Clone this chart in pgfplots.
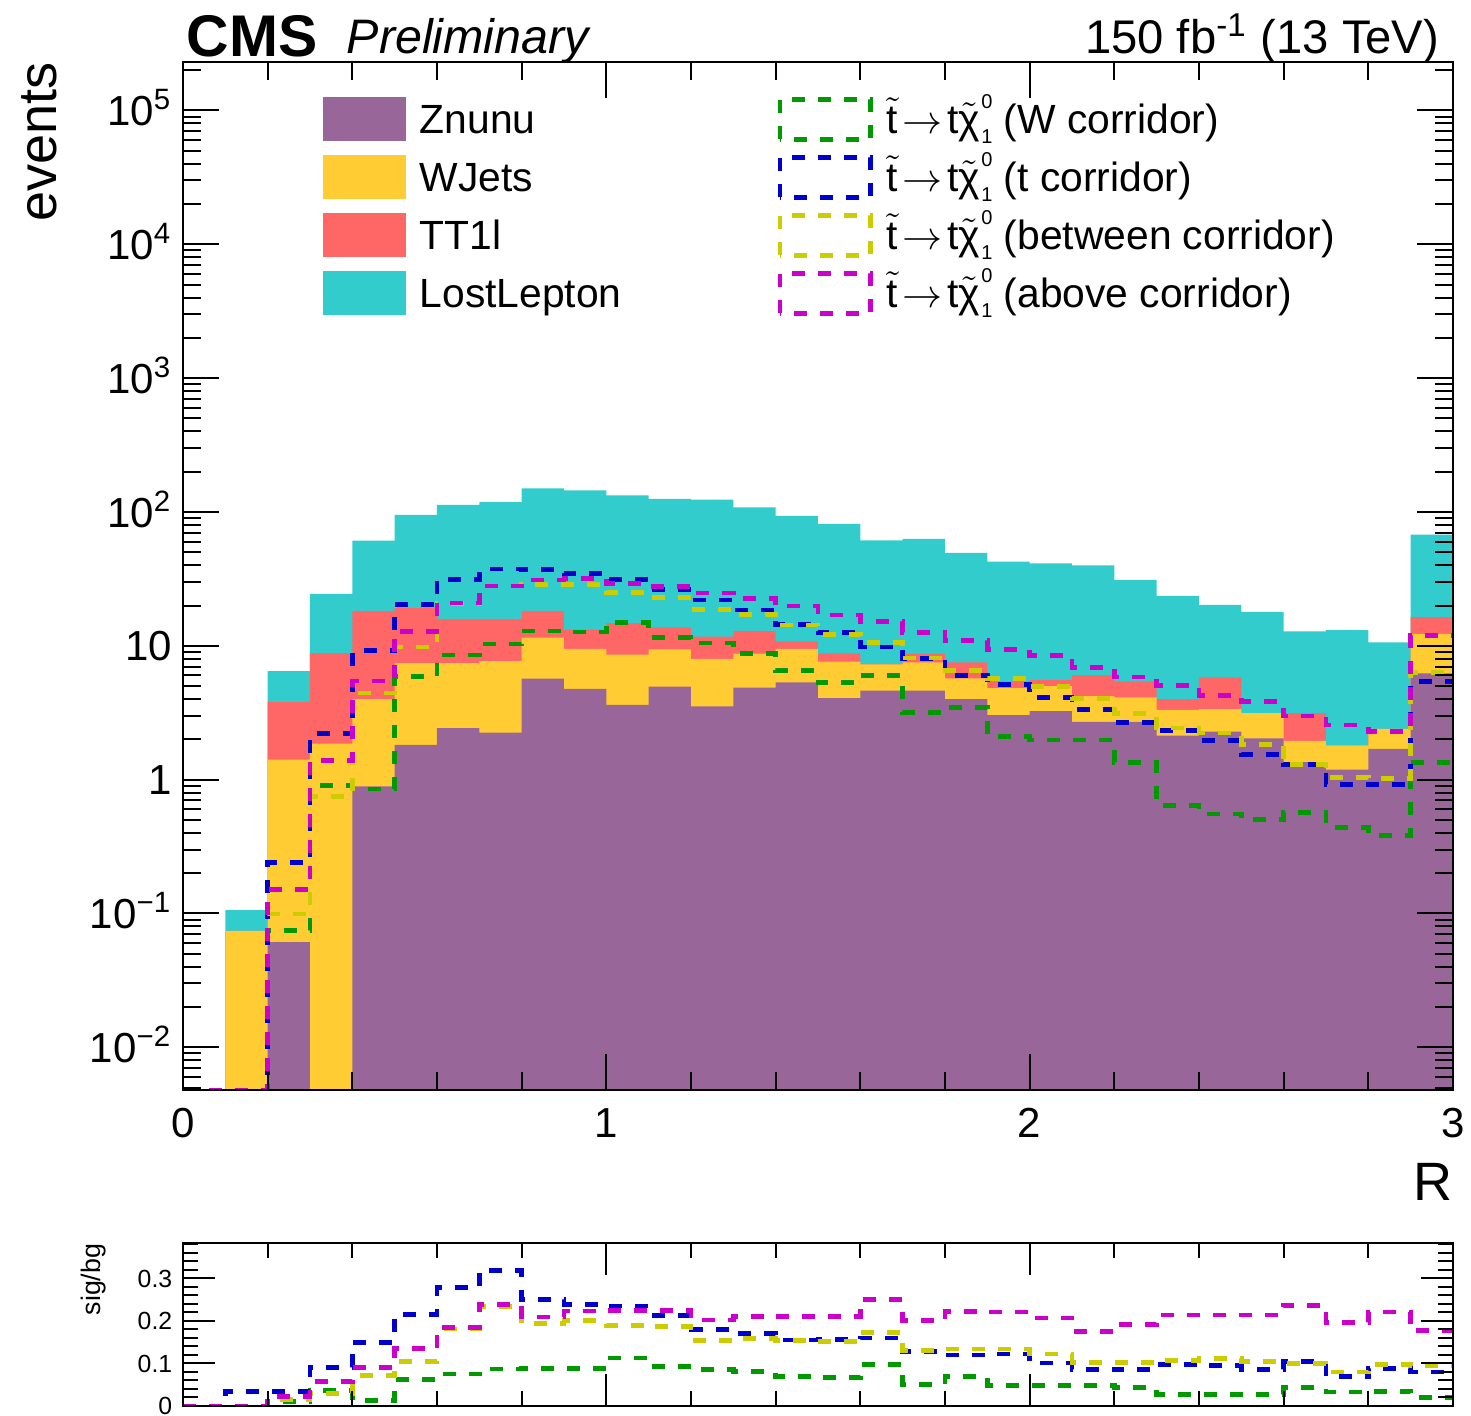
\documentclass[border=0pt]{standalone}
\usepackage{fontspec}
\setmainfont{Liberation Sans}
\usepackage{pgfplots}
\usepackage{pgfplotstable}
\pgfplotsset{compat=1.18}

\definecolor{cZn}{RGB}{153,102,153}
\definecolor{cWJ}{RGB}{255,204,51}
\definecolor{cTT}{RGB}{255,102,102}
\definecolor{cLL}{RGB}{51,204,204}
\definecolor{sW}{RGB}{0,153,0}
\definecolor{sT}{RGB}{0,0,204}
\definecolor{sB}{RGB}{204,204,0}
\definecolor{sA}{RGB}{204,0,204}

\newcommand\fs[1]{\fontsize{#1}{#1}\selectfont}

% cumulative stack tops per bin (left edge), 1e-5 = empty
\pgfplotstableread{
x zn wj tt ll
0.0 1e-5 1e-5 1e-5 1e-5
0.1 1e-5 0.074 0.074 0.106
0.2 0.061 1.41 3.80 6.47
0.3 1e-5 1.86 8.8 24.4
0.4 0.89 3.99 18.2 61
0.5 1.82 7.41 19.1 95
0.6 2.43 7.41 15.9 113
0.7 2.25 7.67 15.9 118.6
0.8 5.68 11.5 18.2 150
0.9 4.76 9.5 13.2 145
1.0 3.62 8.6 14.8 133
1.1 4.96 9.4 13.7 125
1.2 3.53 8.0 11.7 123.5
1.3 4.86 8.73 12.9 108
1.4 5.34 9.5 10.8 93.4
1.5 4.07 7.62 8.79 81.5
1.6 4.63 7.26 7.26 61.3
1.7 4.63 7.51 8.73 63
1.8 3.99 5.72 7.51 49.5
1.9 3.03 4.82 5.42 42.6
2.0 3.25 4.99 5.53 41.2
2.1 2.70 4.21 6.04 39.9
2.2 2.70 4.12 5.42 31.0
2.3 2.13 3.32 3.99 23.6
2.4 2.28 3.36 5.80 20.2
2.5 2.03 3.14 3.14 17.9
2.6 1.35 1.95 3.14 12.8
2.7 1.19 1.80 1.80 13.1
2.8 1.70 2.39 2.39 10.6
2.9 6.21 12.3 16.4 67.8
3.0 6.21 12.3 16.4 67.8
3.0 1e-5 1e-5 1e-5 1e-5
}\stack

% signal yields
\pgfplotstableread{
x w t b a
0.0 0.0048 0.0048 0.0048 0.0048
0.1 0.0048 0.0037 0.0048 0.0048
0.2 0.0746 0.239 0.099 0.151
0.3 0.91 2.20 0.75 1.39
0.4 0.85 9.16 4.44 5.45
0.5 5.92 20.3 9.8 12.8
0.6 8.55 31.4 20.6 20.9
0.7 10.3 37.5 28.0 28.0
0.8 12.9 37.2 28.9 31.0
0.9 12.7 34.5 28.9 32.0
1.0 15.0 31.4 25.1 29.3
1.1 11.5 26.5 22.9 27.8
1.2 10.5 22.0 18.8 24.8
1.3 8.8 18.5 17.1 22.6
1.4 6.51 14.4 14.3 19.8
1.5 5.34 12.5 12.2 17.0
1.6 6.0 9.8 10.6 15.2
1.7 3.18 8.03 8.1 12.5
1.8 3.45 5.96 6.55 11.0
1.9 2.10 5.13 5.68 9.4
2.0 1.98 4.12 4.99 8.43
2.1 1.98 3.36 4.04 6.92
2.2 1.34 2.67 3.10 5.84
2.3 0.642 2.33 2.43 5.03
2.4 0.553 1.95 2.23 4.27
2.5 0.502 1.54 1.83 3.83
2.6 0.568 1.29 1.29 2.99
2.7 0.441 0.92 1.04 2.56
2.8 0.385 0.92 1.02 2.30
2.9 1.34 5.42 6.34 11.9
3.0 1.34 5.42 6.34 11.9
}\sig

% sig/bg
\pgfplotstableread{
x w t b a
0.0 0 0 0 0
0.1 0 0.035 0 0
0.2 0.010 0.035 0.016 0.023
0.3 0.037 0.091 0.030 0.057
0.4 0.013 0.150 0.072 0.090
0.5 0.062 0.215 0.104 0.135
0.6 0.075 0.278 0.181 0.185
0.7 0.087 0.319 0.234 0.239
0.8 0.088 0.250 0.194 0.209
0.9 0.088 0.239 0.201 0.223
1.0 0.113 0.235 0.190 0.224
1.1 0.093 0.213 0.186 0.225
1.2 0.085 0.179 0.154 0.202
1.3 0.081 0.170 0.159 0.210
1.4 0.069 0.155 0.154 0.211
1.5 0.067 0.156 0.152 0.211
1.6 0.098 0.160 0.173 0.250
1.7 0.050 0.128 0.131 0.201
1.8 0.070 0.120 0.134 0.222
1.9 0.049 0.122 0.134 0.221
2.0 0.049 0.101 0.122 0.207
2.1 0.049 0.085 0.102 0.175
2.2 0.043 0.086 0.102 0.191
2.3 0.027 0.098 0.106 0.214
2.4 0.027 0.096 0.112 0.214
2.5 0.027 0.086 0.104 0.214
2.6 0.044 0.104 0.100 0.237
2.7 0.033 0.070 0.080 0.196
2.8 0.035 0.089 0.098 0.221
2.9 0.020 0.080 0.094 0.177
3.0 0.020 0.080 0.094 0.177
}\ratio

\pgfplotsset{
  sigline/.style={const plot mark left, line width=1.2pt,
    dash pattern=on 3.25pt off 3.25pt, forget plot},
  stackfill/.style={const plot mark left, draw=none, forget plot},
  boxlegend/.style={legend image code/.code={
    \fill[#1] (0pt,-4.85pt) rectangle (20.3pt,5.85pt);}},
  dashlegend/.style={legend image code/.code={
    \draw[#1, line width=1.2pt, dash pattern=on 3.25pt off 3.25pt]
      (0.6pt,-4.65pt) rectangle (23.2pt,5.4pt);}},
}

\newcommand\stopchi{$\tilde{\mbox{t}}\!\rightarrow\!\mbox{t}\tilde{\mbox{χ}}$\kern0.4pt\rlap{\raisebox{6.3pt}{\fs{5}0}}\raisebox{-2.5pt}{\fs{5}1}}

\begin{document}
\begin{tikzpicture}
\useasboundingbox (-45.75pt,-81.5pt) rectangle (322pt,272.5pt);

\begin{axis}[
  name=main, at={(0,0)}, anchor=south west,
  scale only axis, width=317.5pt, height=257pt,
  xmin=0, xmax=3, ymode=log, ymin=0.0048, ymax=2.3e5,
  axis on top, tick align=inside,
  axis line style={line width=0.6pt},
  every tick/.style={black, line width=0.5pt},
  major tick length=9pt, minor tick length=4.5pt,
  xtick={0,1,2,3}, xticklabels={0,1,2,3},
  minor xtick={0.2,0.4,0.6,0.8,1.2,1.4,1.6,1.8,2.2,2.4,2.6,2.8},
  ytick={0.01,0.1,1,10,100,1000,10000,100000},
  yticklabels={10\textsuperscript{−2},10\textsuperscript{−1},1,10,10\textsuperscript{2},10\textsuperscript{3},10\textsuperscript{4},10\textsuperscript{5}},
  minor ytick={0.005,0.006,0.007,0.008,0.009,
    0.02,0.03,0.04,0.05,0.06,0.07,0.08,0.09,
    0.2,0.3,0.4,0.5,0.6,0.7,0.8,0.9,
    2,3,4,5,6,7,8,9,20,30,40,50,60,70,80,90,
    200,300,400,500,600,700,800,900,
    2000,3000,4000,5000,6000,7000,8000,9000,
    20000,30000,40000,50000,60000,70000,80000,90000,200000},
  tick label style={font=\fs{10.5}},
  yticklabel style={anchor=base east, inner sep=0pt, xshift=-2.5pt, yshift=-3.8pt},
  xticklabel style={anchor=base, inner sep=0pt, yshift=-11.75pt},
  legend columns=2, legend cell align=left,
  legend style={at={(0.1102,0.9690)}, anchor=north west, draw=none, fill=none,
    inner sep=0pt, outer sep=0pt, font=\fs{10.2}, column sep=1.5pt, row sep=1.0pt,
    cells={inner sep=0pt, text height=8pt, text depth=2.5pt},
    /tikz/every even column/.append style={column sep=37pt}},
]
\addplot[stackfill, fill=cLL] table[x=x, y=ll] {\stack};
\addplot[stackfill, fill=cTT] table[x=x, y=tt] {\stack};
\addplot[stackfill, fill=cWJ] table[x=x, y=wj] {\stack};
\addplot[stackfill, fill=cZn] table[x=x, y=zn] {\stack};

\addplot[sigline, sW] table[x=x, y=w] {\sig};
\addplot[sigline, sT] table[x=x, y=t] {\sig};
\addplot[sigline, sB] table[x=x, y=b] {\sig};
\addplot[sigline, sA] table[x=x, y=a] {\sig};

\addlegendimage{boxlegend=cZn}\addlegendentry{Znunu}
\addlegendimage{dashlegend=sW}\addlegendentry{\stopchi{} (W corridor)}
\addlegendimage{boxlegend=cWJ}\addlegendentry{WJets}
\addlegendimage{dashlegend=sT}\addlegendentry{\stopchi{} (t corridor)}
\addlegendimage{boxlegend=cTT}\addlegendentry{TT1l}
\addlegendimage{dashlegend=sB}\addlegendentry{\stopchi{} (between corridor)}
\addlegendimage{boxlegend=cLL}\addlegendentry{LostLepton}
\addlegendimage{dashlegend=sA}\addlegendentry{\stopchi{} (above corridor)}
\end{axis}

\node[anchor=base west, inner sep=0pt, font=\fs{14.7}\bfseries] at ([xshift=0.75pt,yshift=1.3pt]main.north west) {CMS};
\node[anchor=base west, inner sep=0pt, font=\fs{12.1}\itshape] at ([xshift=40.75pt,yshift=2pt]main.north west) {Preliminary};
\node[anchor=base east, inner sep=0pt, font=\fs{11.8}] at ([xshift=-3.25pt,yshift=2pt]main.north east) {150 fb\textsuperscript{-1} (13 TeV)};
\node[anchor=base east, inner sep=0pt, rotate=90, font=\fs{13.5}] at ([xshift=-31.5pt]main.north west) {events};
\node[anchor=base east, inner sep=0pt, font=\fs{13.5}] at ([yshift=-27.7pt]main.south east) {R};

\begin{axis}[
  name=ratio, at={(0,-38.25pt)}, anchor=north west,
  scale only axis, width=317.5pt, height=40.75pt,
  xmin=0, xmax=3, ymin=0, ymax=0.383,
  axis on top, tick align=inside,
  axis line style={line width=0.6pt},
  every tick/.style={black, line width=0.5pt},
  major tick length=8pt, minor tick length=3.8pt,
  xtick={0,1,2,3}, xticklabels={},
  minor xtick={0.2,0.4,0.6,0.8,1.2,1.4,1.6,1.8,2.2,2.4,2.6,2.8},
  ytick={0,0.1,0.2,0.3}, yticklabels={0,0.1,0.2,0.3},
  minor ytick={0.02,0.04,0.06,0.08,0.12,0.14,0.16,0.18,0.22,0.24,0.26,0.28,0.32,0.34,0.36,0.38},
  tick label style={font=\fs{6.2}},
  yticklabel style={anchor=base east, inner sep=0pt, xshift=-2.5pt, yshift=-2.2pt},
]
\addplot[sigline, sW] table[x=x, y=w] {\ratio};
\addplot[sigline, sT] table[x=x, y=t] {\ratio};
\addplot[sigline, sB] table[x=x, y=b] {\ratio};
\addplot[sigline, sA] table[x=x, y=a] {\ratio};
\end{axis}
\node[anchor=base east, inner sep=0pt, rotate=90, font=\fs{6.7}] at ([xshift=-20.5pt]ratio.north west) {sig/bg};
\end{tikzpicture}
\end{document}
